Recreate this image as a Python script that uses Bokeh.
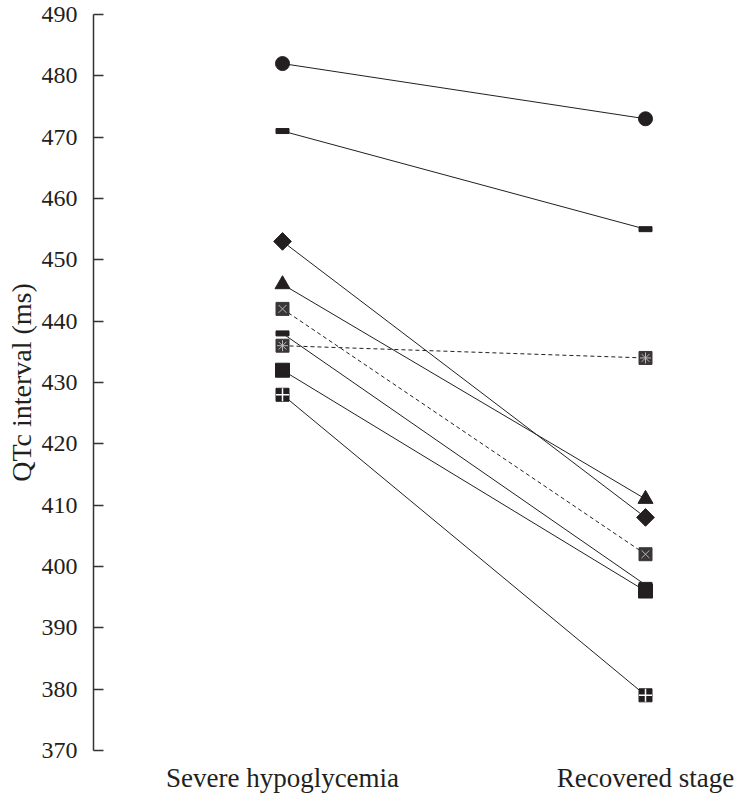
import math
from bokeh.plotting import figure
from bokeh.models import FixedTicker, Range1d
from bokeh.embed import file_html
from bokeh.resources import INLINE

# ---- data ----
stages = ["Severe hypoglycemia", "Recovered stage"]
yticks = [370, 380, 390, 400, 410, 420, 430, 440, 450, 460, 470, 480, 490]

circle_vals = [482, 473]
dash1_vals = [471, 455]
diamond_vals = [453, 408]
triangle_vals = [446, 411]
xsquare_vals = [442, 402]
dash2_vals = [438, 397]
starsquare_vals = [436, 434]
square_vals = [432, 396]
plussquare_vals = [428, 379]

INK = "#231f20"
FONT = "Liberation Serif"

xs = list(range(len(stages)))

p = figure(width=736, height=795, output_backend="svg", toolbar_location=None,
           x_range=Range1d(-0.5207, 1.2121), y_range=Range1d(370, 490),
           min_border_left=93, min_border_right=14, min_border_top=14,
           min_border_bottom=45)
p.outline_line_color = None
p.grid.visible = False
p.background_fill_color = "white"

# lines
solid = [circle_vals, dash1_vals, diamond_vals, triangle_vals, dash2_vals,
         square_vals, plussquare_vals]
for vals in solid:
    p.line(xs, vals, line_color=INK, line_width=1)
for vals in [xsquare_vals, starsquare_vals]:
    p.line(xs, vals, line_color=INK, line_width=1, line_dash="4 3")

# markers
p.scatter(xs, circle_vals, marker="circle", size=14, fill_color=INK, line_color=INK)
for vals in [dash1_vals, dash2_vals]:
    p.rect(xs, vals, width=13, height=5, width_units="screen", height_units="screen",
           fill_color=INK, line_color=INK)
p.scatter(xs, diamond_vals, marker="square", size=12.5, angle=math.pi / 4,
          fill_color=INK, line_color=INK)
p.scatter(xs, triangle_vals, marker="triangle", size=15, fill_color=INK, line_color=INK)
p.scatter(xs, square_vals, marker="square", size=14, fill_color=INK, line_color=INK)
p.scatter(xs, xsquare_vals, marker="square", size=13, fill_color="#3a3637", line_color="#3a3637")
p.scatter(xs, xsquare_vals, marker="x", size=11, line_color="#b8b8b8", line_width=1)
p.scatter(xs, starsquare_vals, marker="square", size=13, fill_color="#3a3637", line_color="#3a3637")
p.scatter(xs, starsquare_vals, marker="asterisk", size=11, line_color="#b8b8b8", line_width=1)
p.scatter(xs, plussquare_vals, marker="square", size=13, fill_color=INK, line_color=INK)
p.scatter(xs, plussquare_vals, marker="cross", size=13, line_color="white", line_width=1.5)

# y axis
ya = p.yaxis[0]
ya.ticker = FixedTicker(ticks=yticks)
ya.axis_label = "QTc interval (ms)"
ya.axis_label_text_font = FONT
ya.axis_label_text_font_size = "28px"
ya.axis_label_text_font_style = "normal"
ya.axis_label_text_color = INK
ya.axis_label_standoff = 2
ya.major_label_text_font = FONT
ya.major_label_text_font_size = "24px"
ya.major_label_text_color = INK
ya.major_label_standoff = 16
ya.axis_line_color = "#333333"
ya.axis_line_width = 1.5
ya.major_tick_line_color = "#333333"
ya.major_tick_line_width = 1.5
ya.major_tick_in = 10
ya.major_tick_out = 0
ya.minor_tick_line_color = None

# x axis
xa = p.xaxis[0]
xa.ticker = FixedTicker(ticks=xs)
xa.major_label_overrides = {i: s for i, s in enumerate(stages)}
xa.major_label_text_font = FONT
xa.major_label_text_font_size = "27px"
xa.major_label_text_color = INK
xa.major_label_standoff = 6
xa.axis_line_color = None
xa.major_tick_line_color = None
xa.minor_tick_line_color = None

open("out.html", "w").write(file_html(p, INLINE))
